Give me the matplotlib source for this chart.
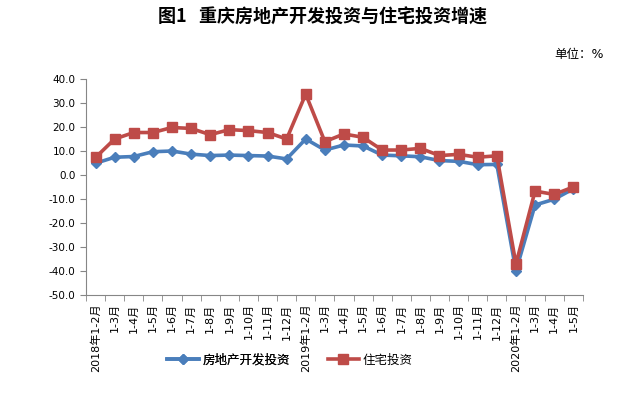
import matplotlib
matplotlib.use("Agg")
import matplotlib.pyplot as plt
import numpy as np

plt.rcParams['font.family'] = ['DejaVu Sans', 'Noto Sans CJK SC']

# 数据
meses = ["2018年1-2月", "1-3月", "1-4月", "1-5月", "1-6月", "1-7月", "1-8月", "1-9月", "1-10月", "1-11月", "1-12月",
         "2019年1-2月", "1-3月", "1-4月", "1-5月", "1-6月", "1-7月", "1-8月", "1-9月", "1-10月", "1-11月", "1-12月",
         "2020年1-2月", "1-3月", "1-4月", "1-5月"]
kaifa = [4.9, 7.4, 7.7, 9.7, 10.0, 8.7, 8.1, 8.3, 8.1, 7.9, 6.7,
         15.0, 10.4, 12.5, 12.1, 8.3, 8.0, 7.6, 6.0, 5.7, 4.3, 4.4,
         -40.0, -12.5, -10.1, -5.8]
zhuzhai = [7.3, 15.0, 17.7, 17.7, 19.8, 19.4, 16.8, 18.9, 18.5, 17.7, 15.0,
           33.7, 13.9, 17.1, 15.7, 10.4, 10.4, 11.1, 8.1, 8.6, 7.4, 8.0,
           -37.1, -6.7, -8.1, -5.0]

fig = plt.figure(figsize=(6.44, 3.98), dpi=100)
ax = fig.add_axes([0.1335, 0.2588, 0.7715, 0.5427])

x = np.arange(len(meses)) + 0.5
l1, = ax.plot(x, kaifa, color="#4a7ebb", lw=2.6, marker="D", ms=5.5, label="房地产开发投资")
l2, = ax.plot(x, zhuzhai, color="#be4b48", lw=2.6, marker="s", ms=7.5, label="住宅投资")

ax.set_xlim(0, len(meses))
ax.set_ylim(-50, 40)
ax.set_yticks(np.arange(-50, 41, 10))
ax.set_yticklabels(["%.1f" % v for v in np.arange(-50, 41, 10)], fontsize=7.5)

ax.set_xticks(x)
ax.set_xticklabels(meses, rotation=90, fontsize=8, va="top")
ax.tick_params(axis="x", length=0, pad=6)
ax.set_xticks(np.arange(0, len(meses) + 1), minor=True)
ax.tick_params(axis="x", which="minor", length=4, color="#868686")
ax.tick_params(axis="y", length=4, color="#868686")

for s in ["top", "right"]:
    ax.spines[s].set_visible(False)
ax.spines["left"].set_color("#868686")
ax.spines["bottom"].set_color("#868686")

fig.text(0.5, 0.957, "图1   重庆房地产开发投资与住宅投资增速", ha="center", va="center",
         fontsize=13, fontweight="bold", family=["Noto Sans CJK SC"])
fig.text(0.937, 0.862, "单位：%", ha="right", va="center", fontsize=9)

# 图例分两块, 中间让出2019年的刻度标签
lg1 = fig.legend(handles=[l1], loc="center", bbox_to_anchor=(0.355, 0.095), frameon=False,
                 fontsize=9, handlelength=2.5, handletextpad=0.3)
fig.add_artist(lg1)
fig.legend(handles=[l2], loc="center", bbox_to_anchor=(0.575, 0.095), frameon=False,
           fontsize=9, handlelength=2.5, handletextpad=0.3)

fig.savefig("out.png", dpi=100)
